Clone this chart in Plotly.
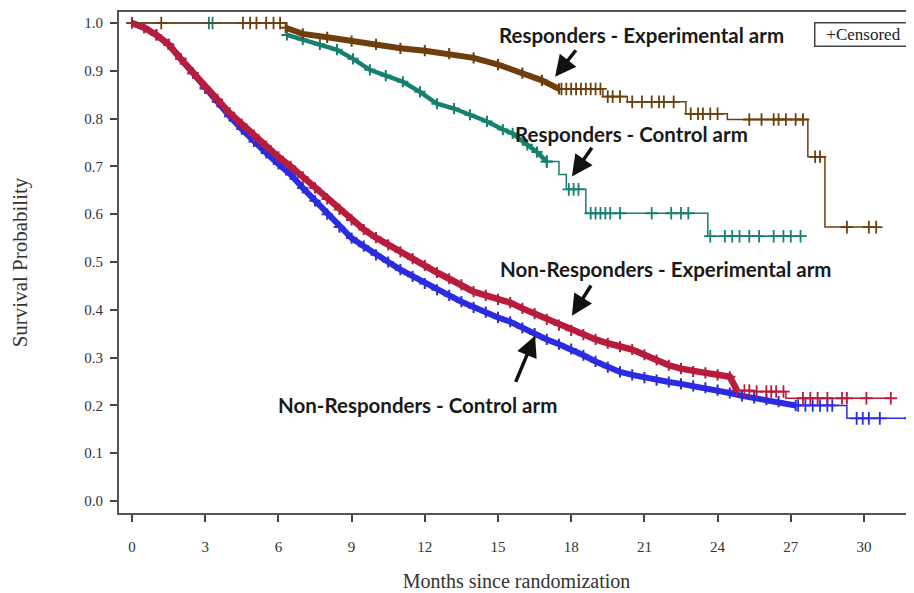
import numpy as np
import plotly.graph_objects as go

# ---------------- data ----------------
# Non-Responders - Experimental arm (red)
nre_t = [0, 0.5, 1, 1.5, 2, 2.5, 3, 3.5, 4, 4.5, 5, 5.5, 6, 6.5, 7, 7.5, 8, 8.5, 9, 9.5,
         10, 10.5, 11, 11.5, 12, 12.5, 13, 13.5, 14, 14.5, 15, 15.5, 16, 16.5, 17, 17.5,
         18, 18.5, 19, 19.5, 20, 20.5, 21, 21.5, 22, 22.5, 23, 23.5, 24, 24.5, 24.8,
         25.5, 26.8, 31.1]
nre_s = [1.0, 0.99, 0.975, 0.955, 0.925, 0.895, 0.865, 0.84, 0.812, 0.788, 0.765, 0.742,
         0.72, 0.70, 0.678, 0.655, 0.632, 0.61, 0.588, 0.568, 0.551, 0.536, 0.521, 0.507,
         0.493, 0.478, 0.465, 0.452, 0.438, 0.43, 0.422, 0.415, 0.403, 0.392, 0.38, 0.368,
         0.357, 0.348, 0.338, 0.33, 0.323, 0.317, 0.306, 0.295, 0.284, 0.277, 0.271, 0.268,
         0.264, 0.26, 0.231, 0.229, 0.215, 0.215]
nre_cens = [25.1, 25.3, 25.6, 26.0, 26.2, 26.4, 26.7, 27.5, 27.8, 28.1, 28.5, 29.1, 29.3,
            30.1, 31.1]
nre_band = (0, 24.8)

# Non-Responders - Control arm (blue)
nrc_t = [0, 0.5, 1, 1.5, 2, 2.5, 3, 3.5, 4, 4.5, 5, 5.5, 6, 6.5, 7, 7.5, 8, 8.5, 9, 9.5,
         10, 10.5, 11, 11.5, 12, 12.5, 13, 13.5, 14, 14.5, 15, 15.5, 16, 16.5, 17, 17.5,
         18, 18.5, 19, 19.5, 20, 20.5, 21, 21.5, 22, 22.5, 23, 23.5, 24, 24.5, 25, 25.5,
         26, 26.5, 27.2, 29.3, 32.3]
nrc_s = [1.0, 0.99, 0.975, 0.955, 0.925, 0.895, 0.863, 0.835, 0.805, 0.778, 0.752, 0.728,
         0.705, 0.683, 0.655, 0.628, 0.60, 0.573, 0.55, 0.533, 0.515, 0.50, 0.484, 0.47,
         0.455, 0.442, 0.43, 0.417, 0.405, 0.395, 0.384, 0.375, 0.362, 0.35, 0.338, 0.328,
         0.318, 0.305, 0.292, 0.28, 0.27, 0.264, 0.258, 0.253, 0.249, 0.245, 0.241, 0.237,
         0.232, 0.226, 0.22, 0.216, 0.212, 0.208, 0.20, 0.173, 0.173]
nrc_cens = [27.3, 27.6, 27.9, 28.2, 28.5, 28.7, 29.7, 29.95, 30.2, 30.65, 31.9]
nrc_band = (0, 27.2)

# Responders - Experimental arm (brown)
re_t = [0, 6.3, 7, 8, 9, 10, 11, 12, 13, 14, 15, 16, 16.8, 17.5, 19.3, 20.3, 22.7, 24.4,
        27.7, 28.4, 30.5]
re_s = [1.0, 0.99, 0.977, 0.97, 0.962, 0.955, 0.947, 0.942, 0.936, 0.927, 0.913, 0.895,
        0.88, 0.862, 0.846, 0.835, 0.81, 0.798, 0.72, 0.573, 0.573]
re_cens = [1.2, 4.55, 4.84, 5.1, 5.5, 5.8, 6.07, 17.6, 17.8, 18.0, 18.2, 18.4, 18.6, 18.8,
           19.0, 19.2, 19.5, 19.7, 20.0, 20.5, 20.9, 21.3, 21.6, 21.8, 22.2, 22.9, 23.2,
           23.4, 23.7, 24.0, 25.3, 25.8, 26.3, 26.5, 26.8, 27.2, 27.5, 28.0, 28.2, 29.3,
           30.2, 30.5]
re_band = (6.3, 17.5)

# Responders - Control arm (teal)
rc_t = [0, 6.35, 7, 7.7, 8.4, 9.06, 9.75, 10.4, 11.1, 11.8, 12.5, 13.2, 13.85, 14.55, 15.2,
        15.6, 16.2, 16.6, 17.0, 17.5, 17.8, 18.6, 23.6, 27.4]
rc_s = [1.0, 0.975, 0.965, 0.955, 0.944, 0.925, 0.902, 0.89, 0.877, 0.856, 0.831, 0.821,
        0.808, 0.794, 0.777, 0.769, 0.745, 0.73, 0.71, 0.683, 0.652, 0.602, 0.554, 0.554]
rc_cens = [3.15, 3.3, 17.0, 17.9, 18.1, 18.3, 18.8, 19.0, 19.2, 19.4, 19.6, 20.0, 21.3,
           22.1, 22.5, 22.8, 23.7, 24.3, 24.6, 24.9, 25.3, 25.7, 26.3, 26.7, 27.0, 27.4]
rc_band = (6.35, 17.0)

x_ticks = [0, 3, 6, 9, 12, 15, 18, 21, 24, 27, 30]
y_ticks = [0.0, 0.1, 0.2, 0.3, 0.4, 0.5, 0.6, 0.7, 0.8, 0.9, 1.0]

labels = ["Responders - Experimental arm", "Responders - Control arm",
          "Non-Responders - Experimental arm", "Non-Responders - Control arm"]

# ---------------- figure ----------------
RED = "#B81C3C"
BLUE = "#2B2BE0"
BROWN = "#6E3F0C"
TEAL = "#17806F"


def step_at(ts, ss, t):
    idx = np.searchsorted(np.asarray(ts), t, side="right") - 1
    return ss[max(idx, 0)]


fig = go.Figure()


def add_curve(ts, ss, cens, band, color, band_width):
    b0, b1 = band
    pairs = list(zip(ts, ss))
    early = [p for p in pairs if p[0] <= b0]
    mid = [p for p in pairs if b0 <= p[0] <= b1]
    late = [p for p in pairs if p[0] >= b1]
    for seg in (early, late):
        if len(seg) > 1:
            fig.add_trace(go.Scatter(x=[a for a, _ in seg], y=[b for _, b in seg], mode="lines",
                                     line=dict(color=color, width=1.5, shape="hv"),
                                     hoverinfo="skip", showlegend=False))
    if len(mid) > 1:
        fig.add_trace(go.Scatter(x=[a for a, _ in mid], y=[b for _, b in mid], mode="lines+markers",
                                 line=dict(color=color, width=band_width, shape="linear"),
                                 marker=dict(symbol="cross-thin", size=8, line=dict(color=color, width=2)),
                                 hoverinfo="skip", showlegend=False))
    cy = [step_at(ts, ss, c) for c in cens]
    fig.add_trace(go.Scatter(x=cens, y=cy, mode="markers",
                             marker=dict(symbol="cross-thin", size=9, line=dict(color=color, width=1.8)),
                             hoverinfo="skip", showlegend=False))


add_curve(nrc_t, nrc_s, nrc_cens, nrc_band, BLUE, 6)
add_curve(nre_t, nre_s, nre_cens, nre_band, RED, 6.5)
add_curve(rc_t, rc_s, rc_cens, rc_band, TEAL, 4.5)
add_curve(re_t, re_s, re_cens, re_band, BROWN, 6)

label_font = dict(family="Lato, Open Sans, sans-serif", size=20.5, color="#1a1a1a")
label_pos = [(20.9, 0.975), (20.49, 0.767), (21.89, 0.485), (11.72, 0.20)]
for txt, (lx, ly) in zip(labels, label_pos):
    fig.add_annotation(x=lx, y=ly, text="<b>" + txt + "</b>", showarrow=False, font=label_font)

arrows = [((17.34, 0.8875), (18.24, 0.946)),
          ((18.03, 0.679), (18.89, 0.742)),
          ((18.03, 0.3875), (18.85, 0.454)),
          ((16.52, 0.346), (15.70, 0.246))]
for (hx, hy), (tx, ty) in arrows:
    fig.add_annotation(x=hx, y=hy, ax=tx, ay=ty, axref="x", ayref="y", text="",
                       showarrow=True, arrowhead=2, arrowsize=1.2, arrowwidth=3.5, arrowcolor="#111")

fig.add_annotation(xref="paper", yref="paper", x=0.9985, y=0.956, xanchor="right", yanchor="middle",
                   text="+Censored", showarrow=False, width=94, height=20,
                   font=dict(family="Liberation Serif, serif", size=17, color="#222"),
                   bordercolor="#444", borderwidth=1.5, borderpad=1, bgcolor="white")

axis_font = dict(family="Liberation Serif, serif", size=15, color="#333")
fig.update_layout(
    width=914, height=593,
    margin=dict(l=111, r=8, t=2, b=88),
    paper_bgcolor="white", plot_bgcolor="white",
    xaxis=dict(range=[-0.533, 32.05], tickvals=x_ticks, ticktext=[str(v) for v in x_ticks],
               ticks="outside", ticklen=7, tickwidth=1.5, tickcolor="#444",
               showline=True, linecolor="#555", linewidth=2, mirror=True,
               showgrid=False, zeroline=False, tickfont=axis_font, ticklabelstandoff=12,
               title=dict(text="Months since randomization",
                          font=dict(family="Liberation Serif, serif", size=20, color="#333"),
                          standoff=20)),
    yaxis=dict(range=[-0.025, 1.0229], tickvals=y_ticks, ticktext=["%.1f" % v for v in y_ticks],
               ticks="outside", ticklen=7, tickwidth=1.5, tickcolor="#444",
               showline=True, linecolor="#555", linewidth=2, mirror=False,
               showgrid=False, zeroline=False, tickfont=axis_font, ticklabelstandoff=4,
               title=dict(text="Survival Probability",
                          font=dict(family="Liberation Serif, serif", size=21, color="#333"),
                          standoff=54)),
)

fig.write_html("out.html")
